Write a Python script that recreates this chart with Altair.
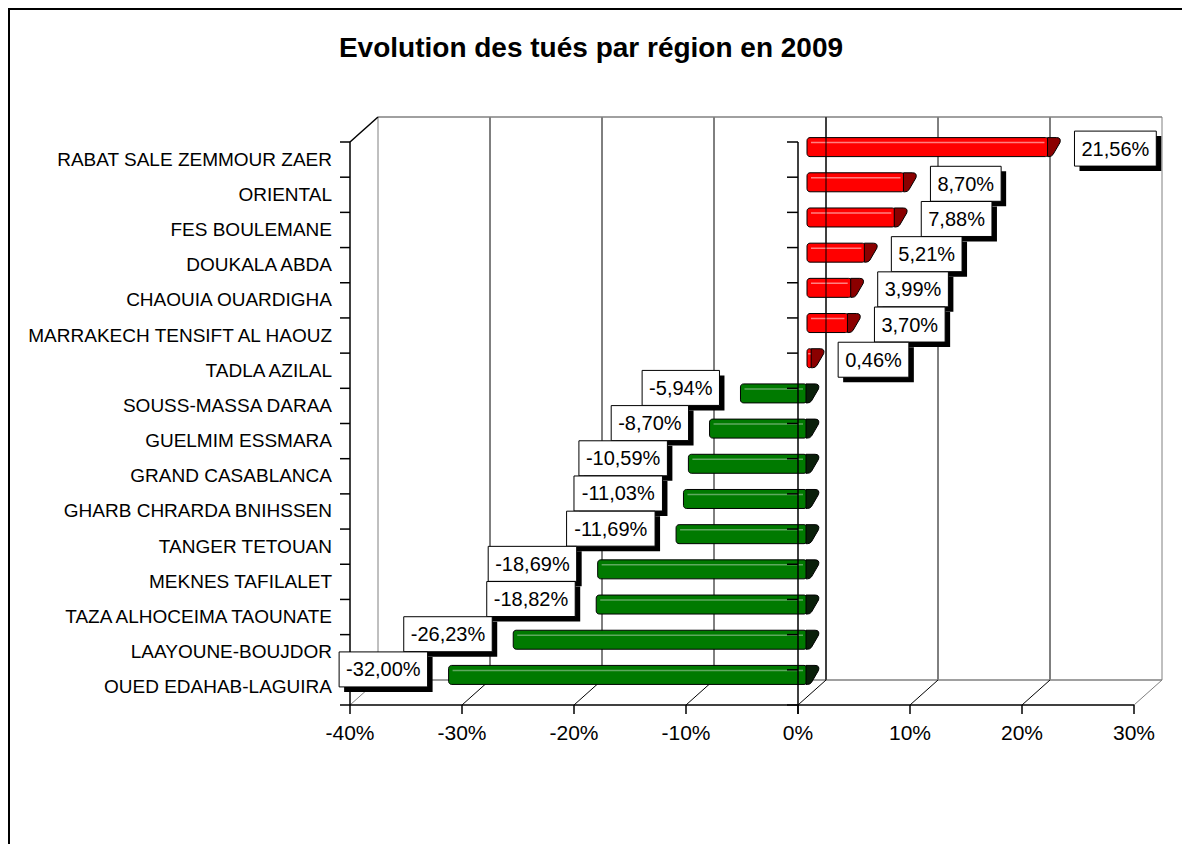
import altair as alt
import pandas as pd

# ---------------- data ----------------
regions = [
    "RABAT SALE ZEMMOUR ZAER", "ORIENTAL", "FES BOULEMANE", "DOUKALA ABDA",
    "CHAOUIA OUARDIGHA", "MARRAKECH TENSIFT AL HAOUZ", "TADLA AZILAL",
    "SOUSS-MASSA DARAA", "GUELMIM ESSMARA", "GRAND CASABLANCA",
    "GHARB CHRARDA BNIHSSEN", "TANGER TETOUAN", "MEKNES TAFILALET",
    "TAZA ALHOCEIMA TAOUNATE", "LAAYOUNE-BOUJDOR", "OUED EDAHAB-LAGUIRA",
]
values = [21.56, 8.70, 7.88, 5.21, 3.99, 3.70, 0.46, -5.94, -8.70, -10.59,
          -11.03, -11.69, -18.69, -18.82, -26.23, -32.00]
x_ticks = [-40, -30, -20, -10, 0, 10, 20, 30]
tick_labels = ["-40%", "-30%", "-20%", "-10%", "0%", "10%", "20%", "30%"]
title_text = "Evolution des tués par région en 2009"

# ---------------- layout constants ----------------
W, H = 1174, 836
X_RANGE = [342, 1126]
Y_RANGE = [134, 697]
PX = (X_RANGE[1] - X_RANGE[0]) / 70.0
PY = (Y_RANGE[1] - Y_RANGE[0]) / 16.0
DX = 28
BACK_TOP, BACK_FLOOR, FRONT_FLOOR = 109, 672, 697
FONT = "Liberation Sans"
LFS = 20
CW = {**{d: 0.556 for d in "0123456789"}, ",": 0.278, "-": 0.333, "%": 0.889}
GRAY = "#808080"


def fmt(v):
    return f"{v:.2f}".replace(".", ",") + "%"


rows = []
for i, (r, v) in enumerate(zip(regions, values)):
    lab = fmt(v)
    w = sum(CW[c] for c in lab) * LFS + 14
    if v >= 0:
        bl = v + 35 / PX
        br = bl + w / PX
        ly = i + 0.5 - 11 / PY
    else:
        br = v - 12 / PX
        bl = br - w / PX
        ly = i + 0.5 - 18 / PY
    rows.append(dict(region=r, v=v, ic=i + 0.5, sign="pos" if v >= 0 else "neg",
                     xs=min(v, 0.0), xe=max(v, 0.0), label=lab, bl=bl, br=br,
                     tc=(bl + br) / 2, ly=ly))
df = pd.DataFrame(rows)
ticks_df = pd.DataFrame({"t": x_ticks, "lab": tick_labels,
                         "edge": [t in (-40, 30) for t in x_ticks]})
bounds_df = pd.DataFrame({"b": list(range(17)), "lo": -40.0, "zero": 0.0})
frame_df = pd.DataFrame({"lo": [-40.0], "hi": [30.0], "zero": [0.0], "title": [title_text]})

xs = alt.Scale(domain=[-40, 30], range=X_RANGE)
ys = alt.Scale(domain=[0, 16], range=Y_RANGE)


def X(f):
    return alt.X(f, type="quantitative", scale=xs, axis=None)


def Y(f):
    return alt.Y(f, type="quantitative", scale=ys, axis=None)


def by_sign(pos_col, neg_col):
    return alt.condition("datum.sign == 'pos'", alt.value(pos_col), alt.value(neg_col))


base = alt.Chart(frame_df)
layers = []

# outer frame (top & left)
layers.append(base.mark_rule(color="black", strokeWidth=2).encode(
    x=alt.value(0), x2=alt.value(W), y=alt.value(1)))
layers.append(base.mark_rule(color="black", strokeWidth=2).encode(
    x=alt.value(1), y=alt.value(0), y2=alt.value(H)))

# back wall gridlines
layers.append(alt.Chart(ticks_df).mark_rule(strokeWidth=1, xOffset=DX).encode(
    x=X("t"), y=alt.value(BACK_TOP), y2=alt.value(BACK_FLOOR),
    color=alt.condition("datum.edge", alt.value(GRAY), alt.value("black"))))
# top edge and back floor line
for yv in (BACK_TOP, BACK_FLOOR):
    layers.append(base.mark_rule(color=GRAY, strokeWidth=1.5, xOffset=DX, x2Offset=DX).encode(
        x=X("lo"), x2="hi", y=alt.value(yv)))
# floor diagonals
layers.append(alt.Chart(ticks_df).mark_rule(strokeWidth=1, x2Offset=DX).encode(
    x=X("t"), x2="t", y=alt.value(FRONT_FLOOR), y2=alt.value(BACK_FLOOR),
    color=alt.condition("datum.edge", alt.value(GRAY), alt.value("black"))))
# front floor line + ticks
layers.append(base.mark_rule(color="black", strokeWidth=1.5).encode(
    x=X("lo"), x2="hi", y=alt.value(FRONT_FLOOR)))
layers.append(alt.Chart(ticks_df).mark_rule(color="black", strokeWidth=1.5).encode(
    x=X("t"), y=alt.value(FRONT_FLOOR), y2=alt.value(FRONT_FLOOR + 9)))
# left wall
layers.append(base.mark_rule(color="black", strokeWidth=1.5).encode(
    x=X("lo"), y=alt.value(Y_RANGE[0]), y2=alt.value(FRONT_FLOOR)))
layers.append(base.mark_rule(color="black", strokeWidth=1.5, x2Offset=DX).encode(
    x=X("lo"), x2="lo", y=alt.value(Y_RANGE[0]), y2=alt.value(BACK_TOP)))
layers.append(alt.Chart(bounds_df).mark_rule(color="black", strokeWidth=1.5, xOffset=-10).encode(
    x=X("lo"), x2="lo", y=Y("b")))

# bars
layers.append(alt.Chart(df).mark_rect(stroke="black", strokeWidth=1, cornerRadius=3,
                                      xOffset=9, x2Offset=9, yOffset=-22, y2Offset=-3).encode(
    x=X("xs"), x2="xe", y=Y("ic"), y2="ic",
    fill=by_sign("#FF0000", "#007A00")))
layers.append(alt.Chart(df).mark_rule(strokeWidth=1.5, xOffset=13, x2Offset=5, yOffset=-17).encode(
    x=X("xs"), x2="xe", y=Y("ic"),
    color=by_sign("#FF8080", "#5FA85F")))
cap_path = "M -0.1,-0.95 L 0.8,-0.95 Q 1.3,-0.95 1.15,-0.45 L 0.45,0.75 Q 0.3,0.95 0.05,0.95 L -0.1,0.95 Z"
layers.append(alt.Chart(df).mark_point(shape=cap_path, size=400, filled=True, opacity=1,
                                       stroke="black", strokeWidth=1, xOffset=9, yOffset=-12.5).encode(
    x=X("xe"), y=Y("ic"),
    fill=by_sign("#8B0000", "#0A1F0A")))
# back 0 gridline seen across the red bars
layers.append(base.mark_rule(color="black", strokeWidth=1, xOffset=DX).encode(
    x=X("zero"), y=alt.value(BACK_TOP), y2=alt.value(BACK_FLOOR)))
# category axis at 0
layers.append(base.mark_rule(color="black", strokeWidth=1.5).encode(
    x=X("zero"), y=alt.value(Y_RANGE[0]), y2=alt.value(FRONT_FLOOR + 9)))
layers.append(alt.Chart(bounds_df).mark_rule(color="black", strokeWidth=1.5, xOffset=-11).encode(
    x=X("zero"), x2="zero", y=Y("b")))

# data labels: shadow, box, text
layers.append(alt.Chart(df).mark_rect(color="black", xOffset=5, x2Offset=5, yOffset=-12.5, y2Offset=22.5).encode(
    x=X("bl"), x2="br", y=Y("ly"), y2="ly"))
layers.append(alt.Chart(df).mark_rect(fill="white", stroke="black", strokeWidth=1, yOffset=-17.5, y2Offset=17.5).encode(
    x=X("bl"), x2="br", y=Y("ly"), y2="ly"))
layers.append(alt.Chart(df).mark_text(font=FONT, fontSize=LFS, align="center", baseline="middle", dy=1, color="black").encode(
    x=X("tc"), y=Y("ly"), text="label:N"))

# category labels
layers.append(alt.Chart(df).mark_text(font=FONT, fontSize=19, align="right", baseline="middle", color="black").encode(
    x=alt.value(324), y=Y("ic"), text="region:N"))
# value-axis tick labels
layers.append(alt.Chart(ticks_df).mark_text(font=FONT, fontSize=21, align="center", baseline="alphabetic", color="black").encode(
    x=X("t"), y=alt.value(732), text="lab:N"))
# title
layers.append(base.mark_text(font=FONT, fontSize=28, fontWeight="bold", align="center",
                             baseline="alphabetic", color="black").encode(
    x=alt.value(583), y=alt.value(49), text="title:N"))

chart = alt.layer(*layers).properties(
    width=W, height=H, autosize=alt.AutoSizeParams(type="none"), padding=0,
    background="white",
).configure_view(stroke=None)

chart.save("out.html", embed_options={"renderer": "svg", "actions": False})
